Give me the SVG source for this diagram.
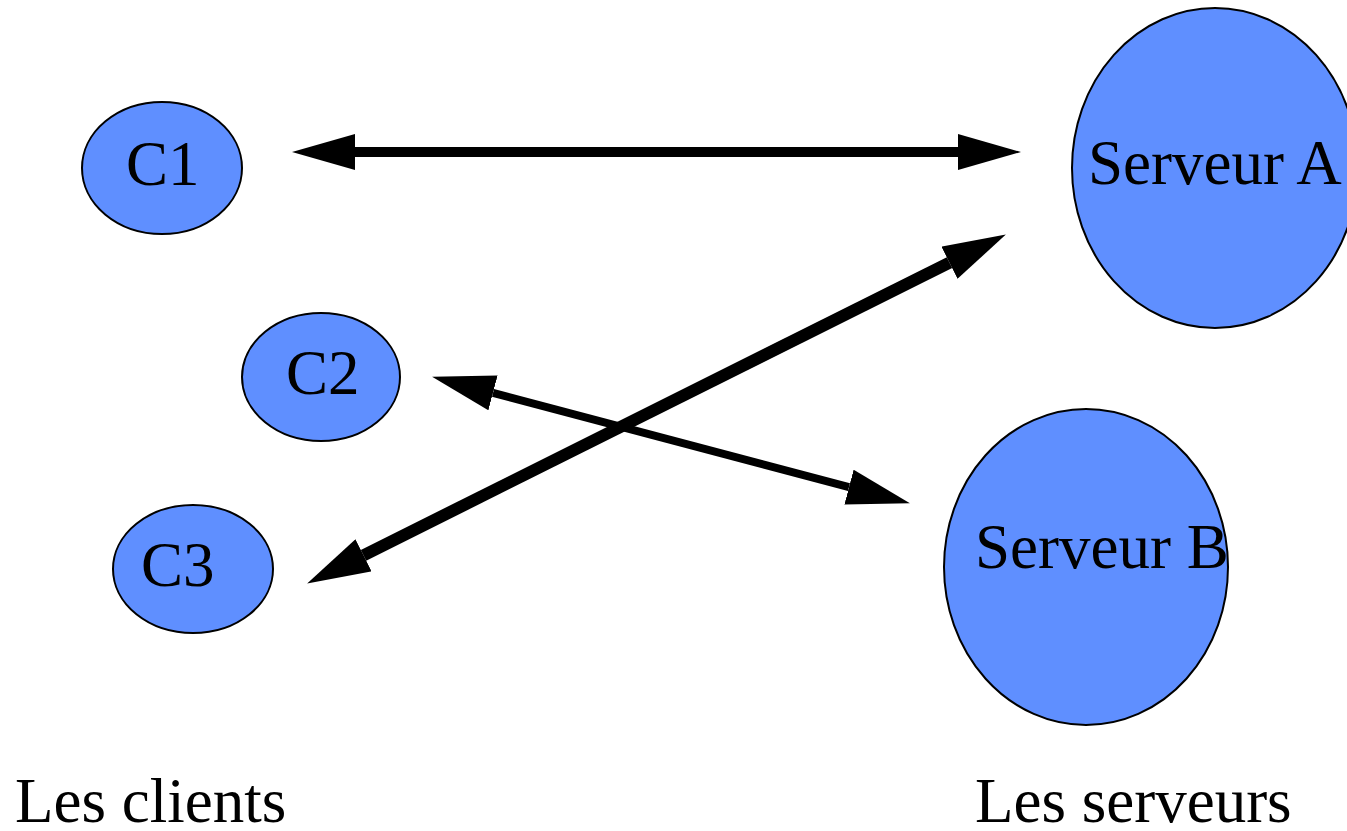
<svg xmlns="http://www.w3.org/2000/svg" width="1347" height="831" viewBox="0 0 1347 831">
  <style>
    .node { fill: #5f8fff; stroke: #000; stroke-width: 2; }
    .label { font-family: "Liberation Serif", "Times New Roman", serif; font-size: 63px; fill: #000; }
    .link { stroke: #000; fill: none; marker-start: url(#head); marker-end: url(#head); }
  </style>
  <defs>
    <marker id="head" markerUnits="userSpaceOnUse" markerWidth="64" markerHeight="36" refX="0" refY="18" orient="auto-start-reverse" viewBox="0 0 64 36">
      <path d="M0,0 L63,18 L0,36 z" fill="#000"/>
    </marker>
  </defs>
  <rect width="1347" height="831" fill="#fff"/>

  <g id="connectors">
    <line class="link" x1="355" y1="152" x2="958" y2="152" stroke-width="10"/>
    <line class="link" x1="363.5" y1="555.3" x2="949.5" y2="262.7" stroke-width="12"/>
    <line class="link" x1="493" y1="392.9" x2="849" y2="487.1" stroke-width="8"/>
  </g>

  <g id="c1">
    <ellipse class="node" cx="162" cy="168" rx="80" ry="66"/>
    <text class="label" x="126" y="185">C1</text>
  </g>
  <g id="c2">
    <ellipse class="node" cx="321" cy="377" rx="79" ry="64"/>
    <text class="label" x="286" y="394">C2</text>
  </g>
  <g id="c3">
    <ellipse class="node" cx="193" cy="569" rx="80" ry="64"/>
    <text class="label" x="141" y="586">C3</text>
  </g>
  <g id="serveur-a">
    <ellipse class="node" cx="1215" cy="168" rx="143" ry="160"/>
    <text class="label" x="1088" y="184">Serveur A</text>
  </g>
  <g id="serveur-b">
    <ellipse class="node" cx="1086" cy="567" rx="142" ry="158"/>
    <text class="label" x="975" y="568">Serveur B</text>
  </g>

  <g id="captions">
    <text class="label" x="15" y="822">Les clients</text>
    <text class="label" x="975" y="822">Les serveurs</text>
  </g>
</svg>
